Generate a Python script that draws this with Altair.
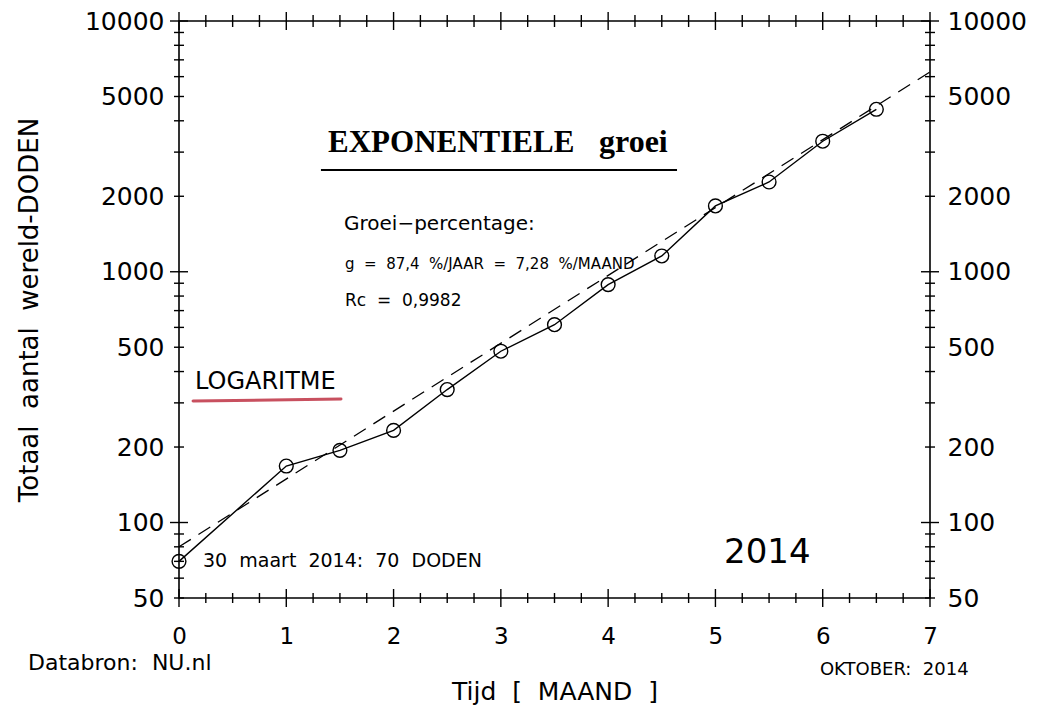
import altair as alt
import pandas as pd

# ---- data ----
months = [0, 1, 1.5, 2, 2.5, 3, 3.5, 4, 4.5, 5, 5.5, 6, 6.5]
deaths = [70, 168, 194, 233, 339, 482, 615, 889, 1156, 1830, 2280, 3315, 4446]
fit_months = [0, 7]
fit_deaths = [80, 6266]

y_labels = [50, 100, 200, 500, 1000, 2000, 5000, 10000]
x_labels = [0, 1, 2, 3, 4, 5, 6, 7]
y_major = [100, 1000, 10000]
y_minor = [50, 60, 70, 80, 90,
           200, 300, 400, 500, 600, 700, 800, 900,
           2000, 3000, 4000, 5000, 6000, 7000, 8000, 9000]
x_major = [0, 1, 2, 3, 4, 5, 6, 7]
x_minor = [0.25, 0.5, 0.75, 1.25, 1.5, 1.75, 2.25, 2.5, 2.75, 3.25, 3.5, 3.75,
           4.25, 4.5, 4.75, 5.25, 5.5, 5.75, 6.25, 6.5, 6.75]

W, H = 751, 577
FONT = "DejaVu Sans"
LW = "normal"
SERIF = "Liberation Serif"
SP = "\u00a0\u00a0"  # wide word spacing as in the reference

xs = alt.Scale(domain=[0, 7], nice=False, zero=False)
ys = alt.Scale(type="log", domain=[50, 10000], nice=False)

def X(field="x", axis=None):
    return alt.X(f"{field}:Q", scale=xs, axis=axis, title=None)

def Y(field="y", axis=None):
    return alt.Y(f"{field}:Q", scale=ys, axis=axis, title=None)

series = pd.DataFrame({"x": months, "y": deaths})
fit = pd.DataFrame({"x": fit_months, "y": fit_deaths})

left_axis = alt.Axis(orient="left", values=y_labels, format="d", ticks=False, tickSize=0,
                     domain=False, grid=False, labelFont=FONT, labelFontSize=25,
                     labelFontWeight=LW, labelColor="black", labelPadding=15,
                     title=f"Totaal{SP}aantal{SP}wereld-DODEN", titleFont=FONT, titleFontSize=26,
                     titleFontWeight=LW, titleColor="black", titleX=-150, titleY=H / 2,
                     titleAngle=270, titleAlign="center", titleBaseline="middle")
right_axis = alt.Axis(orient="right", values=y_labels, format="d", ticks=False, tickSize=0,
                      domain=False, grid=False, labelFont=FONT, labelFontSize=25,
                      labelFontWeight=LW, labelColor="black", labelPadding=17, title=None)
bottom_axis = alt.Axis(orient="bottom", values=x_labels, format="d", ticks=False, tickSize=0,
                       domain=False, grid=False, labelFont=FONT, labelFontSize=23,
                       labelFontWeight=LW, labelColor="black", labelPadding=27, labelFlush=False,
                       title=f"Tijd{SP}[{SP}MAAND{SP}]", titleFont=FONT, titleFontSize=25,
                       titleFontWeight=LW, titleColor="black", titleX=W / 2, titleY=93,
                       titleAlign="center", titleBaseline="middle")

tick_col = "black"

# y ticks (left and right), crossing the frame
ymaj = pd.DataFrame({"y": y_major})
ymin = pd.DataFrame({"y": y_minor})
left_major = alt.Chart(ymaj).mark_rule(color=tick_col, strokeWidth=1.4).encode(
    y=Y("y", left_axis), x=alt.value(-9), x2=alt.value(9))
left_minor = alt.Chart(ymin).mark_rule(color=tick_col, strokeWidth=1.4).encode(
    y=Y("y"), x=alt.value(-5), x2=alt.value(5))
right_major = alt.Chart(ymaj).mark_rule(color=tick_col, strokeWidth=1.4).encode(
    y=Y("y", right_axis), x=alt.value(W - 9), x2=alt.value(W + 9))
right_minor = alt.Chart(ymin).mark_rule(color=tick_col, strokeWidth=1.4).encode(
    y=Y("y"), x=alt.value(W - 5), x2=alt.value(W + 5))

# x ticks (bottom and top)
xmaj = pd.DataFrame({"x": x_major})
xmin = pd.DataFrame({"x": x_minor})
bot_major = alt.Chart(xmaj).mark_rule(color=tick_col, strokeWidth=1.4).encode(
    x=X("x", bottom_axis), y=alt.value(H - 9), y2=alt.value(H + 9))
bot_minor = alt.Chart(xmin).mark_rule(color=tick_col, strokeWidth=1.4).encode(
    x=X("x"), y=alt.value(H - 5), y2=alt.value(H + 5))
top_major = alt.Chart(xmaj).mark_rule(color=tick_col, strokeWidth=1.4).encode(
    x=X("x"), y=alt.value(-9), y2=alt.value(9))
top_minor = alt.Chart(xmin).mark_rule(color=tick_col, strokeWidth=1.4).encode(
    x=X("x"), y=alt.value(-6), y2=alt.value(6))

# data
fit_line = alt.Chart(fit).mark_line(color="black", strokeWidth=1.3, strokeDash=[14, 9]).encode(
    x=X(), y=Y())
data_line = alt.Chart(series).mark_line(color="black", strokeWidth=1.4).encode(x=X(), y=Y())
data_pts = alt.Chart(series).mark_point(shape="circle", size=190, filled=False, color="black",
                                        strokeWidth=1.4, opacity=1).encode(x=X(), y=Y())

# annotations
def label(x, y, text, size, font=FONT, weight=LW, align="left"):
    df = pd.DataFrame({"x": [x], "y": [y], "t": [text]})
    return alt.Chart(df).mark_text(font=font, fontSize=size, fontWeight=weight, align=align,
                                   baseline="alphabetic", color="black").encode(
        x=X(), y=Y(), text="t:N")

title_a = label(1.389, 3006, "EXPONENTIELE", 31, SERIF, "bold")
title_b = label(3.915, 3006, "groei", 32, SERIF, "bold")
underline = alt.Chart(pd.DataFrame({"x": [1.323], "x2": [4.642], "y": [2547]})).mark_rule(
    color="black", strokeWidth=2).encode(x=X("x"), x2="x2:Q", y=Y("y"))
groei = label(1.538, 1468, "Groei\u2212percentage:", 20)
gline = label(1.547, 1026, f"g{SP}={SP}87,4{SP}%/JAAR{SP}={SP}7,28{SP}%/MAAND", 15)
rc = label(1.547, 731, f"Rc{SP}={SP}0,9982", 17)
loga = label(0.149, 341, "LOGARITME", 24)
red = alt.Chart(pd.DataFrame({"x": [0.131], "x2": [1.51], "y": [305], "y2": [311]})).mark_rule(
    color="#c8505f", strokeWidth=3, strokeCap="round").encode(
    x=X("x"), x2="x2:Q", y=Y("y"), y2="y2:Q")
start = label(0.224, 66.5, f"30{SP}maart{SP}2014:{SP}70{SP}DODEN", 19)
year = label(5.08, 69, "2014", 34)
okt = label(5.974, 24.7, f"OKTOBER:{SP}2014", 18)
bron = label(-1.407, 25.8, f"Databron:{SP}NU.nl", 22)

chart = alt.layer(
    left_minor, left_major, right_minor, right_major,
    bot_minor, bot_major, top_minor, top_major,
    fit_line, data_line, data_pts,
    title_a, title_b, underline, groei, gline, rc, loga, red, start, year, okt, bron,
).resolve_axis(x="independent", y="independent").properties(
    width=W, height=H,
    autosize=alt.AutoSizeParams(type="none"),
    padding={"left": 171, "top": 13, "right": 100, "bottom": 108},
    background="white",
).configure_view(stroke="black", strokeWidth=1.6)

chart.save("out.html", embed_options={"renderer": "svg", "actions": False})
